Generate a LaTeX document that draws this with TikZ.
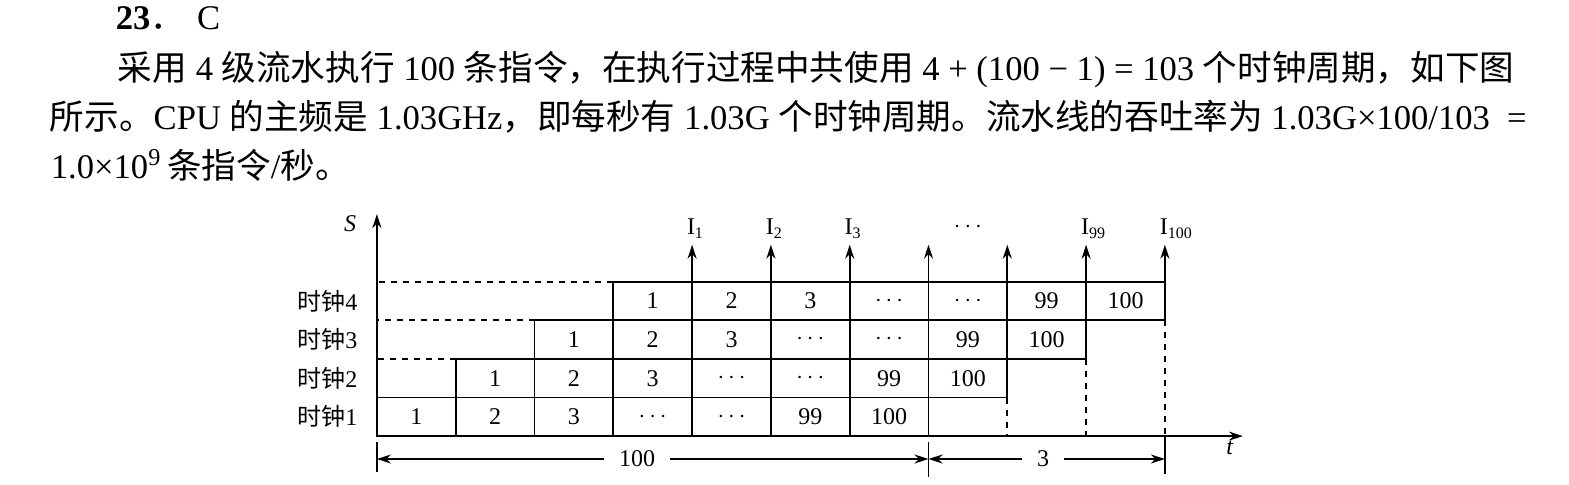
\documentclass[tikz,border=0pt]{standalone}
\usepackage{fontspec}
\setmainfont{Liberation Serif}
\newfontfamily\cjk{Noto Sans CJK SC}
\usetikzlibrary{matrix, positioning, arrows.meta}

\newcommand{\zh}[1]{{\cjk #1}}

\tikzset{
    axis/.style={-{Stealth[length=7pt, width=4.5pt]}},
    stagecell/.style={draw, minimum width=39.4pt, minimum height=19.3pt,
        inner sep=0pt, outer sep=0pt, anchor=center},
    rowlab/.style={anchor=east},
    dimlab/.style={inner xsep=7pt, inner ysep=0pt},
    txtline/.style={anchor=base west, inner sep=0pt, font=\fontsize{17.3}{20}\selectfont}
}

\begin{document}
\begin{tikzpicture}[x=0.5pt, y=0.5pt, line width=0.9pt,
    font=\fontsize{12}{14}\selectfont]
\useasboundingbox (0,0) rectangle (1569,484);

% answer text
\node[txtline] (L1) at (115,455) {\textbf{23}\makebox[1.35em][l]{\zh{．}}C};
\node[txtline] (L2) at (117,404) {\zh{采用} 4 \zh{级流水执行} 100 \zh{条指令，在执行过程中共使用} 4 + (100 − 1) = 103 \zh{个时钟周期，如下图}};
\node[txtline] (L3) at (49,355) {\zh{所示。}CPU \zh{的主频是} 1.03GHz\zh{，即每秒有} 1.03G \zh{个时钟周期。流水线的吞吐率为} 1.03G×100/103 \ =};
\node[txtline] (L4) at (50,306) {1.0×10\textsuperscript{9}\,\zh{条指令}/\zh{秒。}};

% pipeline
\matrix (A) [matrix of nodes, nodes={stagecell}, matrix anchor=south west,
    inner sep=0pt, outer sep=0pt, column sep=-0.9pt, row sep=-0.9pt] at (376,47)
    {&&&1&2&3&$\cdots$&$\cdots$&99&100\\
    &&1&2&3&$\cdots$&$\cdots$&99&100&\\
    &1&2&3&$\cdots$&$\cdots$&99&100&&\\
    1&2&3&$\cdots$&$\cdots$&99&100&&&\\};
    \foreach \r/\c/\k in {1/4/4, 2/3/3, 3/2/2, 4/1/1}{
        \node[rowlab] (R\k) at ([xshift=-5.5pt]A.west |- A-\r-\c) {\zh{时钟}\k};}
    \foreach \r/\c in {1/4, 2/3, 3/2}{
        \draw[dashed] (A-\r-\c.north west) -- (A-\r-\c.north west -| A.west);}
    \foreach \r/\c in {1/10, 2/9, 3/8}{
        \draw[dashed] (A-\r-\c.south east) -- (A-\r-\c.south east |- A.south);}

% axes
\coordinate (O) at (A-4-1.south west);
\coordinate (Stop) at ([yshift=111pt]O);
\coordinate (Tend) at ([xshift=433pt]O);
\draw[axis] (O) -- (Stop);
\draw[axis] (O) -- (Tend);
\node (S) at (350,260) {\textit{S}};
\node (T) at (1230,36) {\textit{t}};

% instructions leaving
\foreach \c in {4,...,10}{
    \draw[axis] (A-1-\c.north east) -- ++(0,37) coordinate (I\c);}
\foreach \c/\n in {4/1, 5/2, 6/3, 9/99, 10/100}{
    \node[anchor=base west, inner sep=0pt] (N\c) at ([xshift=-3pt, yshift=5pt]I\c) {I\textsubscript{\n}};}
\path (I7) -- (I8) node[midway, yshift=9pt] (Idots) {$\cdots$};

% 100 + 3 cycles
\coordinate (K0) at ([yshift=-3pt]A-4-1.south west);
\coordinate (K1) at ([yshift=-3pt]A-4-7.south east);
\coordinate (K2) at (A-1-10.south east |- O);
\draw (K0) -- ++(0,-15pt);
\draw (K1) -- ++(0,-17.5pt);
\draw (K2) -- ++(0,-19pt);
\node[dimlab] (D100) at (637,25) {100};
\node[dimlab] (D3) at (1043,25) {3};
\draw[axis] (D100) -- (D100 -| K0);
\draw[axis] (D100) -- (D100 -| K1);
\draw[axis] (D3) -- (D3 -| K1);
\draw[axis] (D3) -- (D3 -| K2);
\end{tikzpicture}
\end{document}
